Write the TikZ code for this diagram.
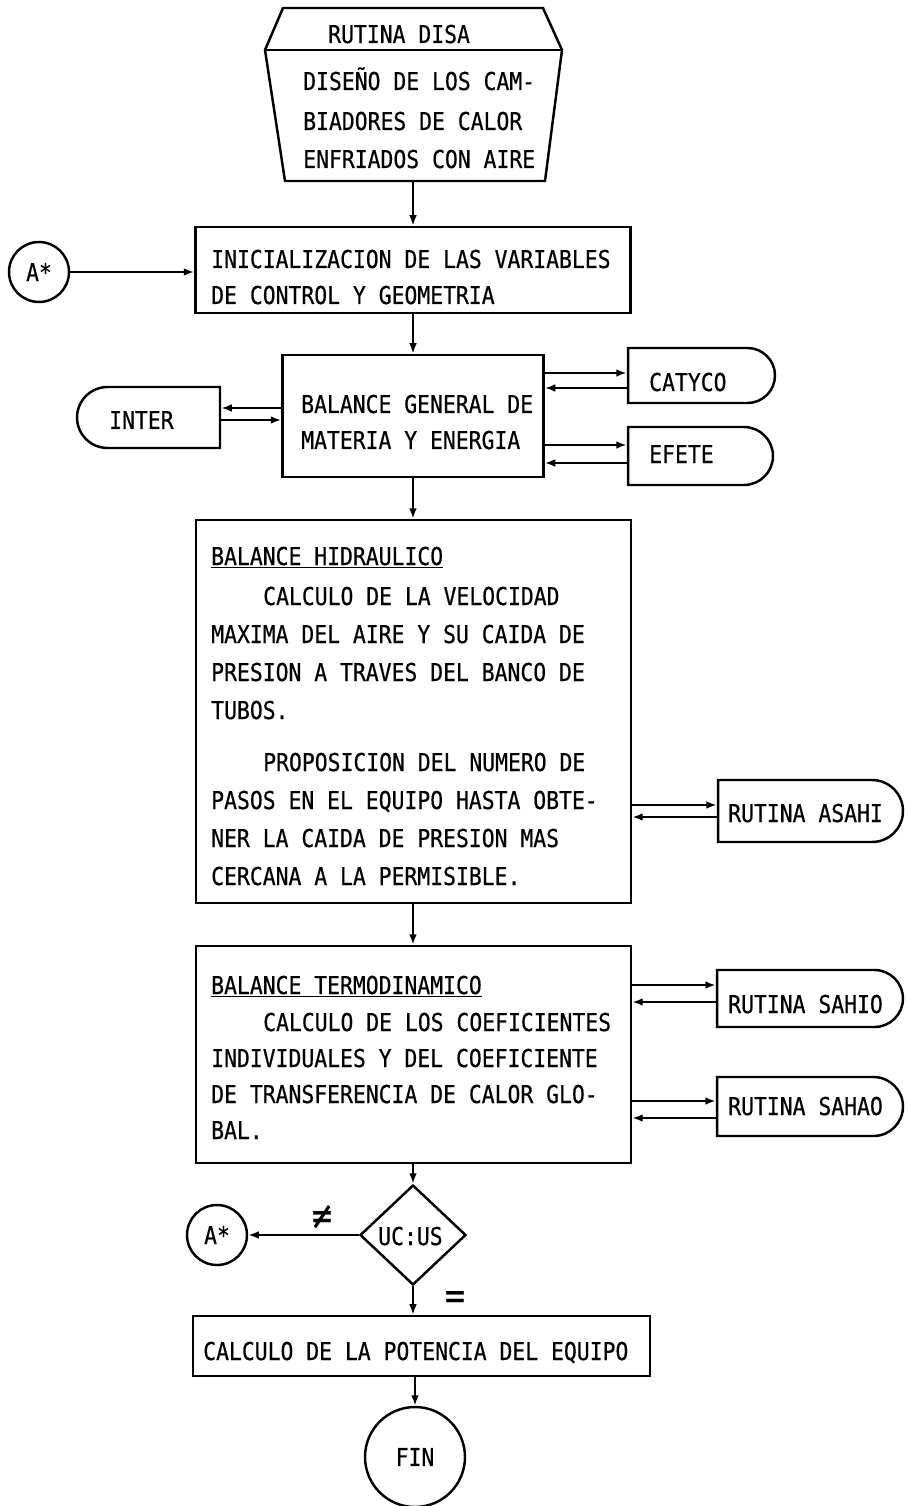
\documentclass[tikz,border=0pt]{standalone}
\usepackage{fontspec}
\usetikzlibrary{arrows.meta,shapes.geometric,shapes.misc}
\newfontfamily\lpfont[FakeStretch=0.87,FakeBold=0.5]{DejaVu Sans Mono}
\begin{document}
\begin{tikzpicture}[x=0.02cm,y=-0.02cm, line width=1.4pt,
  arr/.style={-{Latex[length=6pt,width=4.4pt]}},
  box/.style={draw, rectangle, inner sep=0},
  rbox/.style={draw, rounded rectangle, rounded rectangle left arc=none, inner sep=0},
  lbox/.style={draw, rounded rectangle, rounded rectangle right arc=none, inner sep=0},
  conn/.style={draw, circle, inner sep=0, font=\lpfont\fontsize{14pt}{17pt}\selectfont},
  tx/.style={anchor=base west, inner sep=0, font=\lpfont\fontsize{14pt}{17pt}\selectfont},
  sym/.style={inner sep=0, font=\lpfont\fontsize{22pt}{22pt}\selectfont}
]
\useasboundingbox (0,0) rectangle (907,1506);

% top routine shape
\draw (283,8) -- (543,8) -- (562,50) -- (545,181) -- (285,181) -- (265,50) -- cycle;
\draw (265,50) -- (562,50);
\coordinate (disab) at (413,181);
\node[tx] (t1) at (327,43) {RUTINA DISA};
\node[tx] (t2) at (302,90) {DISEÑO DE LOS CAM-};
\node[tx] (t3) at (302,130) {BIADORES DE CALOR};
\node[tx] (t4) at (302,168) {ENFRIADOS CON AIRE};

% initialisation
\node[box, minimum width=8.7cm, minimum height=1.72cm] (init) at (413,270) {};
\node[tx] (t5) at (210,268) {INICIALIZACION DE LAS VARIABLES};
\node[tx] (t6) at (210,304) {DE CONTROL Y GEOMETRIA};
\node[conn, minimum size=1.2cm] (a1) at (39,272) {A*};

% general balance
\node[box, minimum width=5.22cm, minimum height=2.44cm] (bal) at (413,416) {};
\node[tx] (t7) at (300,413) {BALANCE GENERAL DE};
\node[tx] (t8) at (300,449) {MATERIA Y ENERGIA};
\node[lbox, minimum width=2.86cm, minimum height=1.22cm] (inter) at (148.5,417.5) {};
\node[tx] (t9) at (108,429) {INTER};
\node[rbox, minimum width=2.94cm, minimum height=1.1cm] (caty) at (701.5,375.5) {};
\node[tx] (t10) at (648,391) {CATYCO};
\node[rbox, minimum width=2.9cm, minimum height=1.16cm] (efete) at (700.5,456) {};
\node[tx] (t11) at (648,463) {EFETE};

% hydraulic balance
\node[box, minimum width=8.7cm, minimum height=7.66cm] (hyd) at (413.5,711.5) {};
\node[tx] (t12) at (210,565) {\underline{BALANCE HIDRAULICO}};
\node[tx] (t13) at (262,605) {CALCULO DE LA VELOCIDAD};
\node[tx] (t14) at (210,643) {MAXIMA DEL AIRE Y SU CAIDA DE};
\node[tx] (t15) at (210,681) {PRESION A TRAVES DEL BANCO DE};
\node[tx] (t16) at (210,719) {TUBOS.};
\node[tx] (t17) at (262,771) {PROPOSICION DEL NUMERO DE};
\node[tx] (t18) at (210,809) {PASOS EN EL EQUIPO HASTA OBTE-};
\node[tx] (t19) at (210,847) {NER LA CAIDA DE PRESION MAS};
\node[tx] (t20) at (210,885) {CERCANA A LA PERMISIBLE.};
\node[rbox, minimum width=3.7cm, minimum height=1.24cm] (asahi) at (810.5,811) {};
\node[tx] (t21) at (727,822) {RUTINA ASAHI};

% thermodynamic balance
\node[box, minimum width=8.7cm, minimum height=4.34cm] (termo) at (413.5,1054.5) {};
\node[tx] (t22) at (210,994) {\underline{BALANCE TERMODINAMICO}};
\node[tx] (t23) at (262,1031) {CALCULO DE LOS COEFICIENTES};
\node[tx] (t24) at (210,1067) {INDIVIDUALES Y DEL COEFICIENTE};
\node[tx] (t25) at (210,1103) {DE TRANSFERENCIA DE CALOR GLO-};
\node[tx] (t26) at (210,1139) {BAL.};
\node[rbox, minimum width=3.72cm, minimum height=1.14cm] (sahio) at (810,998.5) {};
\node[tx] (t27) at (727,1013) {RUTINA SAHIO};
\node[rbox, minimum width=3.72cm, minimum height=1.18cm] (sahao) at (810,1106.5) {};
\node[tx] (t28) at (727,1115) {RUTINA SAHAO};

% decision
\node[draw, diamond, inner sep=0, minimum width=2.12cm, minimum height=2cm] (dia) at (413,1235) {};
\node[tx] (t29) at (377,1245) {UC:US};
\node[conn, minimum size=1.2cm] (a2) at (217,1235) {A*};
\node[sym] (ne) at (322,1217) {≠};
\node[sym] (eq) at (455,1300) {=};

% final
\node[box, minimum width=9.14cm, minimum height=1.2cm] (final) at (421.5,1346) {};
\node[tx] (t30) at (202,1360) {CALCULO DE LA POTENCIA DEL EQUIPO};
\node[conn, minimum size=2cm] (fin) at (415,1457) {FIN};

% connectors
\draw[arr] (disab) -- (disab |- init.north);
\draw[arr] (a1.east) -- (init.west |- a1.east);
\draw[arr] (init.south) -- (bal.north);
\draw[arr] (bal.west |- 0,408) -- (inter.east |- 0,408);
\draw[arr] (inter.east |- 0,420) -- (bal.west |- 0,420);
\draw[arr] (bal.east |- 0,373) -- (caty.west |- 0,373);
\draw[arr] (caty.west |- 0,388) -- (bal.east |- 0,388);
\draw[arr] (bal.east |- 0,445) -- (efete.west |- 0,445);
\draw[arr] (efete.west |- 0,463) -- (bal.east |- 0,463);
\draw[arr] (bal.south) -- (bal.south |- hyd.north);
\draw[arr] (hyd.east |- 0,805) -- (asahi.west |- 0,805);
\draw[arr] (asahi.west |- 0,817) -- (hyd.east |- 0,817);
\draw[arr] (hyd.south -| dia.north) -- (dia.north |- termo.north);
\draw[arr] (termo.east |- 0,985) -- (sahio.west |- 0,985);
\draw[arr] (sahio.west |- 0,1002) -- (termo.east |- 0,1002);
\draw[arr] (termo.east |- 0,1101) -- (sahao.west |- 0,1101);
\draw[arr] (sahao.west |- 0,1118) -- (termo.east |- 0,1118);
\draw[arr] (dia.north |- termo.south) -- (dia.north);
\draw[arr] (dia.west) -- (a2.east);
\draw[arr] (dia.south) -- (dia.south |- final.north);
\draw[arr] (final.south -| fin.north) -- (fin.north);
\end{tikzpicture}
\end{document}
